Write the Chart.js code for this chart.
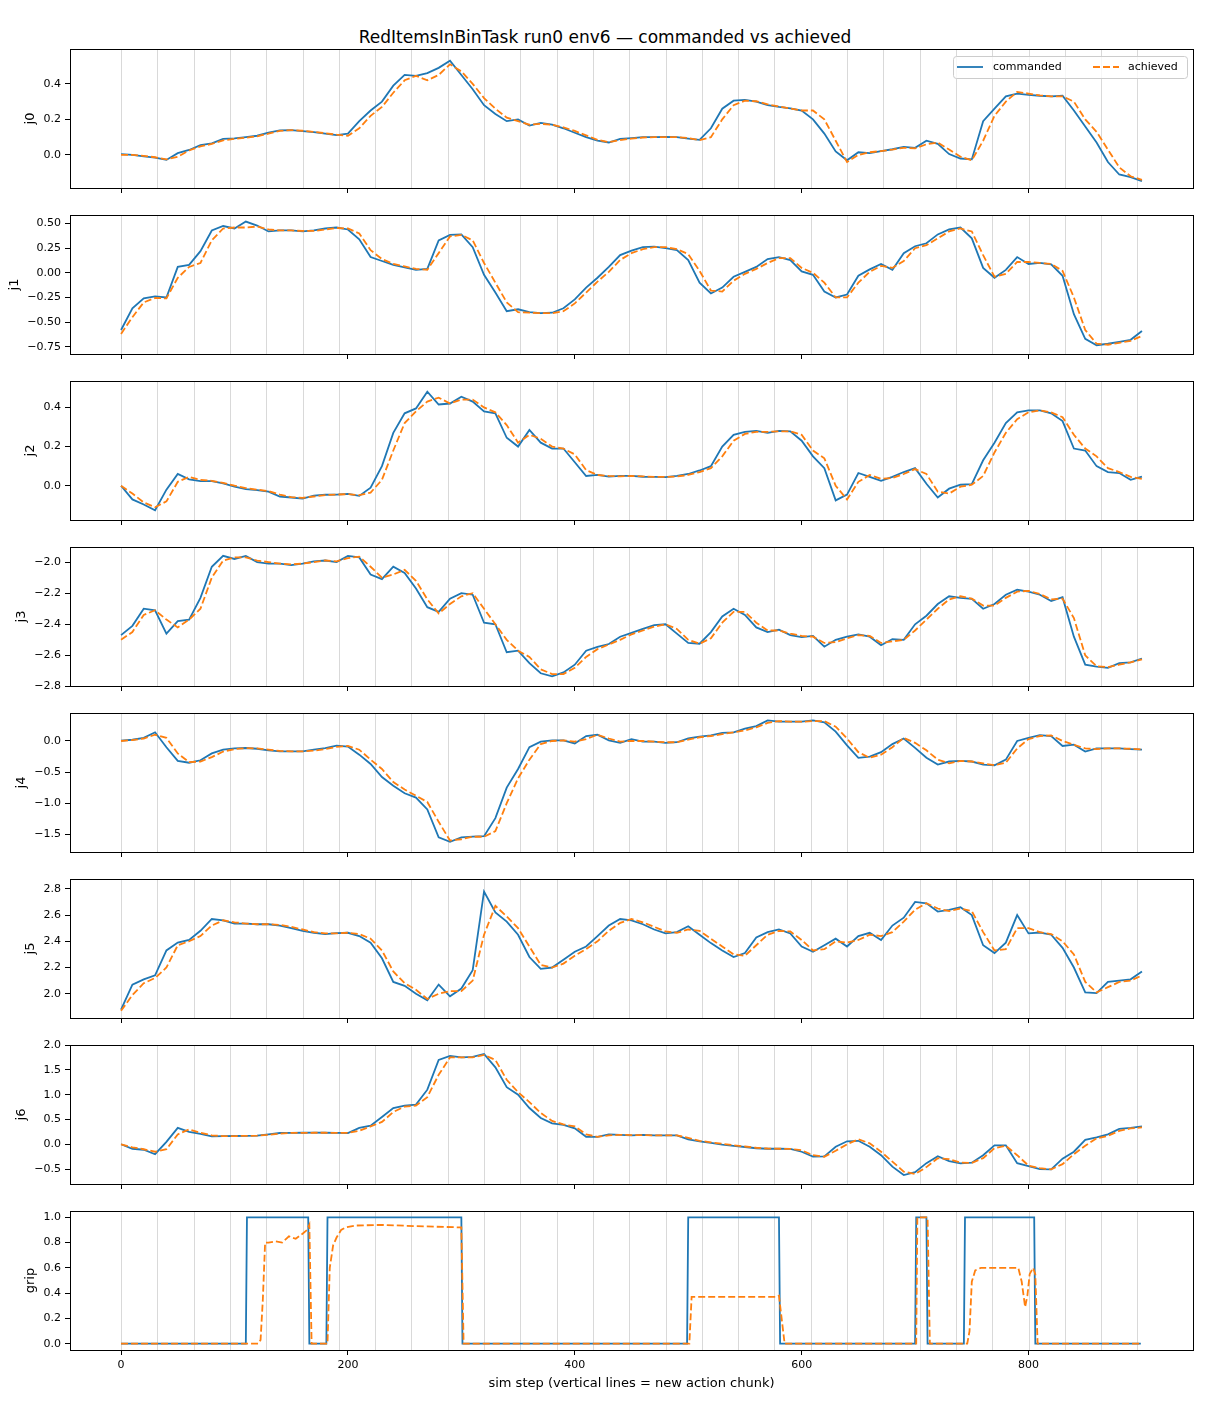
<!DOCTYPE html>
<html>
<head>
<meta charset="utf-8">
<script src="https://cdn.jsdelivr.net/npm/chart.js@4.4.1/dist/chart.umd.min.js"></script>
<style>
body { margin: 0; background: #fff; width: 1210px; height: 1408px; position: relative; overflow: hidden; font-family: 'DejaVu Sans', sans-serif; }
#title { position: absolute; top: 27px; left: 0; width: 1210px; text-align: center; font-size: 17px; color: #000; }
.panel { position: absolute; left: 0; width: 1210px; }
</style>
</head>
<body>
<div id="title">RedItemsInBinTask run0 env6 — commanded vs achieved</div>
<script>
// sim steps sampled every 10 steps
const steps = [0,10,20,30,40,50,60,70,80,90,100,110,120,130,140,150,160,170,180,190,200,210,220,230,240,250,260,270,280,290,300,310,320,330,340,350,360,370,380,390,400,410,420,430,440,450,460,470,480,490,500,510,520,530,540,550,560,570,580,590,600,610,620,630,640,650,660,670,680,690,700,710,720,730,740,750,760,770,780,790,800,810,820,830,840,850,860,870,880,890,900];

// new action chunk starts
const chunkStarts = [0,32,64,96,128,160,192,224,256,288,320,352,384,416,448,480,512,544,576,608,640,672,704,736,768,800,832,864,896];

const xTicks = [0,200,400,600,800];

const j0Cmd = [0.005,0.0,-0.008,-0.015,-0.028,0.01,0.028,0.055,0.065,0.09,
  0.093,0.1,0.108,0.125,0.138,0.14,0.134,0.128,0.12,0.112,
  0.12,0.19,0.25,0.3,0.39,0.45,0.445,0.46,0.49,0.53,
  0.45,0.37,0.28,0.23,0.19,0.2,0.165,0.18,0.17,0.15,
  0.125,0.1,0.08,0.07,0.09,0.095,0.1,0.1,0.102,0.1,
  0.092,0.085,0.15,0.26,0.305,0.31,0.3,0.28,0.27,0.262,
  0.25,0.2,0.12,0.02,-0.03,0.015,0.01,0.022,0.032,0.045,
  0.04,0.08,0.062,0.005,-0.02,-0.025,0.19,0.26,0.33,0.345,
  0.338,0.333,0.33,0.333,0.25,0.16,0.07,-0.04,-0.11,-0.125,-0.147];
const j0Ach = [0.0,0.0,-0.005,-0.013,-0.025,-0.01,0.025,0.048,0.062,0.082,
  0.09,0.097,0.105,0.12,0.135,0.14,0.136,0.13,0.122,0.114,
  0.108,0.15,0.22,0.27,0.35,0.42,0.445,0.42,0.45,0.51,
  0.47,0.4,0.32,0.26,0.21,0.19,0.17,0.175,0.17,0.155,
  0.135,0.11,0.085,0.072,0.083,0.092,0.098,0.1,0.1,0.1,
  0.095,0.083,0.1,0.2,0.28,0.305,0.302,0.285,0.272,0.262,
  0.25,0.25,0.2,0.08,-0.04,0.0,0.015,0.022,0.03,0.04,
  0.037,0.06,0.07,0.03,-0.01,-0.03,0.08,0.22,0.3,0.355,
  0.345,0.335,0.33,0.33,0.3,0.2,0.13,0.03,-0.07,-0.12,-0.14];

const j1Cmd = [-0.58,-0.36,-0.26,-0.24,-0.25,0.06,0.08,0.22,0.43,0.475,
  0.45,0.52,0.48,0.42,0.43,0.43,0.42,0.43,0.45,0.46,
  0.44,0.34,0.16,0.12,0.08,0.055,0.03,0.04,0.33,0.385,
  0.39,0.26,-0.02,-0.2,-0.39,-0.37,-0.40,-0.41,-0.405,-0.36,
  -0.27,-0.15,-0.05,0.06,0.18,0.225,0.26,0.265,0.25,0.23,
  0.13,-0.1,-0.21,-0.15,-0.04,0.01,0.06,0.14,0.16,0.13,
  0.015,-0.02,-0.19,-0.25,-0.22,-0.03,0.035,0.09,0.03,0.2,
  0.27,0.3,0.39,0.44,0.46,0.35,0.05,-0.05,0.03,0.16,
  0.09,0.1,0.085,-0.03,-0.42,-0.67,-0.735,-0.72,-0.70,-0.68,-0.59];
const j1Ach = [-0.62,-0.45,-0.3,-0.255,-0.26,-0.05,0.06,0.1,0.33,0.45,
  0.46,0.46,0.47,0.44,0.43,0.43,0.425,0.425,0.44,0.455,
  0.45,0.4,0.23,0.14,0.09,0.065,0.04,0.03,0.2,0.37,
  0.385,0.33,0.1,-0.1,-0.3,-0.4,-0.405,-0.41,-0.41,-0.39,
  -0.31,-0.2,-0.09,0.01,0.13,0.2,0.24,0.26,0.26,0.24,
  0.19,0.02,-0.18,-0.19,-0.08,-0.01,0.04,0.1,0.15,0.15,
  0.05,0.0,-0.1,-0.25,-0.25,-0.1,0.01,0.07,0.05,0.12,
  0.25,0.28,0.35,0.42,0.45,0.42,0.18,-0.04,-0.01,0.11,
  0.11,0.1,0.09,0.02,-0.25,-0.58,-0.72,-0.73,-0.71,-0.69,-0.64];

const j2Cmd = [0.0,-0.07,-0.096,-0.125,-0.02,0.06,0.033,0.024,0.024,0.012,
  -0.005,-0.017,-0.022,-0.03,-0.055,-0.06,-0.066,-0.05,-0.046,-0.045,
  -0.042,-0.052,-0.01,0.1,0.27,0.37,0.395,0.48,0.415,0.42,
  0.455,0.43,0.38,0.37,0.245,0.2,0.285,0.22,0.19,0.19,
  0.12,0.05,0.055,0.047,0.05,0.05,0.046,0.045,0.044,0.05,
  0.06,0.078,0.1,0.2,0.26,0.275,0.28,0.27,0.28,0.278,
  0.23,0.15,0.09,-0.075,-0.045,0.065,0.045,0.025,0.045,0.07,
  0.09,0.01,-0.06,-0.015,0.005,0.008,0.13,0.22,0.32,0.375,
  0.385,0.385,0.37,0.33,0.19,0.18,0.1,0.07,0.065,0.03,0.047];
const j2Ach = [0.0,-0.04,-0.085,-0.11,-0.08,0.02,0.045,0.03,0.025,0.015,
  0.0,-0.012,-0.02,-0.027,-0.045,-0.058,-0.062,-0.055,-0.048,-0.045,
  -0.043,-0.048,-0.035,0.03,0.18,0.32,0.38,0.43,0.45,0.42,
  0.44,0.44,0.4,0.375,0.31,0.22,0.26,0.24,0.2,0.19,
  0.16,0.08,0.055,0.05,0.048,0.05,0.048,0.045,0.045,0.047,
  0.055,0.07,0.09,0.15,0.23,0.265,0.275,0.275,0.278,0.278,
  0.26,0.18,0.14,0.0,-0.07,0.02,0.055,0.035,0.04,0.06,
  0.085,0.06,-0.03,-0.04,-0.005,0.005,0.05,0.17,0.27,0.34,
  0.375,0.385,0.375,0.35,0.26,0.19,0.15,0.09,0.07,0.045,0.035];

const j3Cmd = [-2.47,-2.41,-2.30,-2.31,-2.46,-2.38,-2.37,-2.23,-2.03,-1.96,
  -1.98,-1.96,-2.0,-2.01,-2.01,-2.02,-2.01,-1.995,-1.99,-2.0,
  -1.96,-1.97,-2.08,-2.11,-2.03,-2.07,-2.17,-2.29,-2.32,-2.235,
  -2.2,-2.21,-2.39,-2.40,-2.58,-2.57,-2.65,-2.715,-2.735,-2.71,
  -2.66,-2.57,-2.545,-2.527,-2.48,-2.455,-2.43,-2.405,-2.40,-2.46,
  -2.52,-2.525,-2.45,-2.35,-2.30,-2.34,-2.42,-2.45,-2.435,-2.47,
  -2.482,-2.475,-2.544,-2.5,-2.48,-2.465,-2.48,-2.535,-2.495,-2.5,
  -2.4,-2.345,-2.27,-2.22,-2.23,-2.237,-2.3,-2.27,-2.21,-2.178,
  -2.19,-2.21,-2.25,-2.226,-2.48,-2.66,-2.673,-2.68,-2.65,-2.645,-2.62];
const j3Ach = [-2.50,-2.45,-2.34,-2.31,-2.37,-2.42,-2.37,-2.3,-2.1,-1.99,
  -1.97,-1.97,-1.99,-2.0,-2.01,-2.015,-2.01,-2.0,-1.99,-1.995,
  -1.975,-1.965,-2.03,-2.1,-2.08,-2.05,-2.12,-2.24,-2.33,-2.27,
  -2.22,-2.2,-2.3,-2.4,-2.5,-2.57,-2.61,-2.69,-2.72,-2.72,
  -2.68,-2.61,-2.56,-2.53,-2.5,-2.465,-2.44,-2.415,-2.4,-2.43,
  -2.5,-2.525,-2.49,-2.39,-2.32,-2.32,-2.39,-2.44,-2.44,-2.46,
  -2.475,-2.48,-2.52,-2.515,-2.49,-2.47,-2.475,-2.52,-2.51,-2.5,
  -2.44,-2.37,-2.3,-2.24,-2.22,-2.235,-2.28,-2.28,-2.23,-2.19,
  -2.185,-2.205,-2.24,-2.235,-2.36,-2.6,-2.67,-2.675,-2.66,-2.645,-2.625];

const j4Cmd = [0.005,0.02,0.05,0.14,-0.1,-0.32,-0.35,-0.31,-0.2,-0.14,
  -0.118,-0.113,-0.125,-0.15,-0.167,-0.167,-0.167,-0.14,-0.115,-0.075,
  -0.09,-0.22,-0.37,-0.58,-0.72,-0.84,-0.91,-1.1,-1.55,-1.62,
  -1.55,-1.537,-1.53,-1.24,-0.75,-0.45,-0.1,-0.01,0.01,0.01,
  -0.04,0.08,0.1,0.01,-0.03,0.03,-0.01,-0.01,-0.03,-0.02,
  0.04,0.07,0.09,0.13,0.14,0.2,0.24,0.33,0.31,0.31,
  0.31,0.33,0.3,0.15,-0.07,-0.27,-0.25,-0.18,-0.05,0.04,
  -0.11,-0.27,-0.38,-0.33,-0.32,-0.33,-0.38,-0.39,-0.3,0.0,
  0.05,0.095,0.08,-0.08,-0.06,-0.17,-0.12,-0.118,-0.118,-0.13,-0.14];
const j4Ach = [0.0,0.015,0.04,0.1,0.05,-0.2,-0.34,-0.33,-0.26,-0.17,
  -0.13,-0.115,-0.12,-0.14,-0.16,-0.167,-0.167,-0.155,-0.13,-0.095,
  -0.08,-0.14,-0.3,-0.45,-0.66,-0.78,-0.88,-0.98,-1.3,-1.6,
  -1.58,-1.54,-1.54,-1.45,-1.0,-0.6,-0.3,-0.05,0.0,0.01,
  -0.01,0.03,0.1,0.04,-0.01,0.0,0.0,-0.01,-0.02,-0.02,
  0.02,0.06,0.08,0.11,0.14,0.17,0.22,0.29,0.32,0.31,
  0.31,0.32,0.32,0.23,0.04,-0.18,-0.27,-0.22,-0.1,0.05,
  -0.03,-0.15,-0.3,-0.36,-0.32,-0.33,-0.36,-0.39,-0.35,-0.12,
  0.03,0.08,0.09,0.0,-0.06,-0.12,-0.13,-0.12,-0.12,-0.125,-0.135];

const j5Cmd = [1.878,2.07,2.11,2.14,2.33,2.39,2.41,2.48,2.57,2.56,
  2.535,2.535,2.53,2.53,2.52,2.5,2.48,2.465,2.455,2.462,
  2.465,2.44,2.39,2.27,2.09,2.06,2.0,1.95,2.07,1.98,
  2.04,2.18,2.78,2.62,2.55,2.45,2.28,2.19,2.2,2.26,
  2.32,2.36,2.44,2.52,2.57,2.56,2.53,2.49,2.46,2.47,
  2.515,2.45,2.386,2.33,2.28,2.31,2.43,2.47,2.49,2.46,
  2.36,2.32,2.37,2.42,2.36,2.44,2.465,2.41,2.52,2.58,
  2.7,2.69,2.627,2.64,2.66,2.6,2.37,2.31,2.39,2.6,
  2.46,2.467,2.45,2.35,2.2,2.01,2.005,2.09,2.1,2.11,2.17];
const j5Ach = [1.87,1.99,2.08,2.12,2.2,2.37,2.4,2.44,2.52,2.56,
  2.545,2.535,2.53,2.53,2.525,2.51,2.49,2.47,2.46,2.46,
  2.465,2.455,2.42,2.33,2.17,2.08,2.03,1.96,2.0,2.02,
  2.02,2.1,2.45,2.67,2.59,2.5,2.36,2.22,2.2,2.23,
  2.29,2.34,2.4,2.48,2.54,2.57,2.545,2.51,2.475,2.465,
  2.49,2.48,2.42,2.36,2.3,2.29,2.37,2.45,2.48,2.475,
  2.41,2.33,2.34,2.4,2.39,2.41,2.45,2.44,2.47,2.55,
  2.64,2.69,2.65,2.63,2.65,2.63,2.47,2.33,2.34,2.5,
  2.5,2.47,2.455,2.4,2.3,2.09,2.01,2.05,2.09,2.1,2.14];

const j6Cmd = [0.0,-0.09,-0.11,-0.2,0.05,0.33,0.25,0.21,0.16,0.165,
  0.167,0.17,0.175,0.2,0.227,0.23,0.232,0.233,0.232,0.23,
  0.227,0.33,0.375,0.55,0.73,0.78,0.8,1.1,1.7,1.78,
  1.75,1.76,1.82,1.55,1.15,1.0,0.73,0.53,0.42,0.39,
  0.32,0.15,0.15,0.2,0.19,0.18,0.19,0.18,0.18,0.18,
  0.1,0.06,0.03,-0.005,-0.03,-0.055,-0.08,-0.09,-0.09,-0.093,
  -0.15,-0.25,-0.245,-0.05,0.06,0.07,-0.05,-0.22,-0.45,-0.62,
  -0.56,-0.38,-0.24,-0.34,-0.385,-0.37,-0.22,-0.02,-0.02,-0.38,
  -0.44,-0.5,-0.507,-0.29,-0.15,0.09,0.14,0.2,0.31,0.33,0.36];
const j6Ach = [0.0,-0.06,-0.1,-0.15,-0.1,0.2,0.3,0.23,0.18,0.165,
  0.165,0.17,0.173,0.19,0.215,0.228,0.23,0.232,0.232,0.23,
  0.228,0.27,0.36,0.45,0.65,0.76,0.78,0.95,1.4,1.75,
  1.75,1.75,1.8,1.7,1.3,1.05,0.85,0.63,0.47,0.4,
  0.36,0.2,0.15,0.18,0.19,0.185,0.185,0.18,0.18,0.18,
  0.13,0.07,0.04,0.01,-0.02,-0.045,-0.07,-0.085,-0.09,-0.092,
  -0.12,-0.22,-0.25,-0.13,0.0,0.1,0.02,-0.15,-0.35,-0.55,
  -0.6,-0.46,-0.28,-0.3,-0.37,-0.375,-0.28,-0.08,-0.03,-0.22,
  -0.43,-0.48,-0.505,-0.4,-0.2,-0.03,0.12,0.17,0.27,0.32,0.34];

// gripper: value changes at these steps
const gripCmdSteps = [0,110,111,165,166,181,182,300,301,499,500,580,581,700,701,710,711,743,744,805,806,899];
const gripCmd = [0,0,1,1,0,0,1,1,0,0,1,1,0,0,1,1,0,0,1,1,0,0];
const gripAchSteps = [0,121,123,125,127,130,136,142,148,154,160,164,166,168,182,183,184,187,190,194,198,207,229,260,300,302,501,503,578,580,583,585,701,702,711,713,746,748,750,753,758,791,794,797,799,801,804,806,808,899];
const gripAch = [0,0,0.03,0.35,0.8,0.8,0.81,0.8,0.85,0.83,0.87,0.9,0.94,0,0,0.3,0.6,0.78,0.84,0.9,0.92,0.935,0.94,0.93,0.92,0,0,0.37,0.37,0.38,0.15,0,0,1,1,0,0,0.1,0.49,0.58,0.6,0.6,0.49,0.29,0.38,0.55,0.6,0.55,0,0];

const j0Ticks = [0.0,0.2,0.4];
const j1Ticks = [-0.75,-0.5,-0.25,0.0,0.25,0.5];
const j2Ticks = [0.0,0.2,0.4];
const j3Ticks = [-2.8,-2.6,-2.4,-2.2,-2.0];
const j4Ticks = [-1.5,-1.0,-0.5,0.0];
const j5Ticks = [2.0,2.2,2.4,2.6,2.8];
const j6Ticks = [-0.5,0.0,0.5,1.0,1.5,2.0];
const gripTicks = [0.0,0.2,0.4,0.6,0.8,1.0];

const pts = (xs, ys) => xs.map((s, i) => ({x: s, y: ys[i]}));

const panels = [
  {name: 'j0', cmd: pts(steps, j0Cmd), ach: pts(steps, j0Ach), min: -0.186, max: 0.596, ticks: j0Ticks, dec: 1},
  {name: 'j1', cmd: pts(steps, j1Cmd), ach: pts(steps, j1Ach), min: -0.824, max: 0.587, ticks: j1Ticks, dec: 2},
  {name: 'j2', cmd: pts(steps, j2Cmd), ach: pts(steps, j2Ach), min: -0.175, max: 0.535, ticks: j2Ticks, dec: 1},
  {name: 'j3', cmd: pts(steps, j3Cmd), ach: pts(steps, j3Ach), min: -2.797, max: -1.903, ticks: j3Ticks, dec: 1},
  {name: 'j4', cmd: pts(steps, j4Cmd), ach: pts(steps, j4Ach), min: -1.785, max: 0.45, ticks: j4Ticks, dec: 1},
  {name: 'j5', cmd: pts(steps, j5Cmd), ach: pts(steps, j5Ach), min: 1.815, max: 2.875, ticks: j5Ticks, dec: 1},
  {name: 'j6', cmd: pts(steps, j6Cmd), ach: pts(steps, j6Ach), min: -0.8, max: 2.0, ticks: j6Ticks, dec: 1},
  {name: 'grip', cmd: pts(gripCmdSteps, gripCmd), ach: pts(gripAchSteps, gripAch), min: -0.05, max: 1.05, ticks: gripTicks, dec: 1}
];

Chart.defaults.font.family = "'DejaVu Sans', sans-serif";
Chart.defaults.color = '#000';
Chart.defaults.animation = false;

const fmt = (v, dec) => v.toFixed(dec).replace('-', '\u2212');

// measure tick labels so the y title sits just left of them, like matplotlib
const measureCtx = document.createElement('canvas').getContext('2d');
measureCtx.font = "11px 'DejaVu Sans'";
function labelWidth(p) {
  return Math.max(...p.ticks.map(v => measureCtx.measureText(fmt(v, p.dec)).width));
}

// chunk lines behind the data, black frame on top
const framePlugin = {
  id: 'frame',
  beforeDatasetsDraw(chart) {
    const {ctx, chartArea: a, scales: {x}} = chart;
    ctx.save();
    ctx.strokeStyle = 'rgba(128,128,128,0.3)';
    ctx.lineWidth = 1;
    chunkStarts.forEach(s => {
      const px = Math.round(x.getPixelForValue(s)) + 0.5;
      ctx.beginPath();
      ctx.moveTo(px, a.top);
      ctx.lineTo(px, a.bottom);
      ctx.stroke();
    });
    ctx.restore();
  },
  afterDatasetsDraw(chart) {
    const {ctx, chartArea: a} = chart;
    ctx.save();
    ctx.strokeStyle = '#000';
    ctx.lineWidth = 1;
    ctx.strokeRect(Math.round(a.left) + 0.5, Math.round(a.top) + 0.5, Math.round(a.width), Math.round(a.height));
    ctx.restore();
  }
};

// legend box inside the top panel, upper right
const boxLegend = {
  id: 'boxLegend',
  afterDraw(chart) {
    const {ctx, chartArea: a} = chart;
    const w = 234, h = 22;
    const x0 = a.right - 6 - w, y0 = a.top + 7;
    const ym = y0 + h / 2;
    ctx.save();
    ctx.fillStyle = 'rgba(255,255,255,0.8)';
    ctx.strokeStyle = '#cccccc';
    ctx.lineWidth = 1;
    ctx.beginPath();
    ctx.roundRect(x0 + 0.5, y0 + 0.5, w, h, 3);
    ctx.fill();
    ctx.stroke();
    ctx.font = "11px 'DejaVu Sans'";
    ctx.textBaseline = 'middle';
    const items = [
      {ds: chart.data.datasets[0], sx: 4, tx: 40},
      {ds: chart.data.datasets[1], sx: 140, tx: 175}
    ];
    items.forEach(it => {
      ctx.strokeStyle = it.ds.borderColor;
      ctx.lineWidth = it.ds.borderWidth;
      ctx.setLineDash(it.ds.borderDash || []);
      ctx.beginPath();
      ctx.moveTo(x0 + it.sx, ym);
      ctx.lineTo(x0 + it.sx + 26, ym);
      ctx.stroke();
      ctx.setLineDash([]);
      ctx.fillStyle = '#000';
      ctx.fillText(it.ds.label, x0 + it.tx, ym);
    });
    ctx.restore();
  }
};

panels.forEach((p, i) => {
  const last = i === panels.length - 1;
  const top = 49 + i * 166;
  const xh = last ? 45 : 20;
  // y title centre = tick label left edge - labelpad - half text height
  const titleCentre = 61 - labelWidth(p) - 5.5 - 7;
  const padLeft = Math.max(2, titleCentre - 4 - 7.8);
  const div = document.createElement('div');
  div.className = 'panel';
  div.style.top = (top - 6) + 'px';
  const canvas = document.createElement('canvas');
  canvas.width = 1210;
  canvas.height = 6 + 139 + xh;
  canvas.style.width = '1210px';
  canvas.style.height = canvas.height + 'px';
  div.appendChild(canvas);
  document.body.appendChild(div);

  new Chart(canvas.getContext('2d'), {
    type: 'line',
    data: {
      datasets: [
        {label: 'commanded', data: p.cmd, borderColor: '#1f77b4', borderWidth: 1.8, pointRadius: 0, tension: 0, order: 2},
        {label: 'achieved', data: p.ach, borderColor: '#ff7f0e', borderWidth: 1.8, borderDash: [7, 3], pointRadius: 0, tension: 0, order: 1}
      ]
    },
    options: {
      responsive: false,
      devicePixelRatio: 1,
      layout: {padding: {top: 6, right: 17, bottom: 0, left: padLeft}},
      plugins: {legend: {display: false}, tooltip: {enabled: false}},
      scales: {
        x: {
          type: 'linear',
          min: -45,
          max: 945,
          afterBuildTicks: s => { s.ticks = xTicks.map(v => ({value: v})); },
          afterFit: s => { s.height = xh; s.paddingLeft = 0; s.paddingRight = 0; },
          grid: {drawOnChartArea: false, color: '#000', tickLength: 5},
          border: {display: false},
          ticks: {
            font: {size: 11},
            padding: 4,
            maxRotation: 0,
            callback: v => last ? String(v) : ''
          },
          title: {
            display: last,
            text: 'sim step (vertical lines = new action chunk)',
            font: {size: 13},
            padding: {top: 4, bottom: 4}
          }
        },
        y: {
          min: p.min,
          max: p.max,
          afterBuildTicks: s => { s.ticks = p.ticks.map(v => ({value: v})); },
          afterFit: s => { s.width = 70 - padLeft; s.paddingTop = 0; s.paddingBottom = 0; },
          grid: {drawOnChartArea: false, color: '#000', tickLength: 5},
          border: {display: false},
          ticks: {font: {size: 11}, padding: 4, callback: v => fmt(v, p.dec)},
          title: {display: true, text: p.name, font: {size: 13}, padding: {top: 4, bottom: 4}}
        }
      }
    },
    plugins: i === 0 ? [framePlugin, boxLegend] : [framePlugin]
  });
});
</script>
</body>
</html>
